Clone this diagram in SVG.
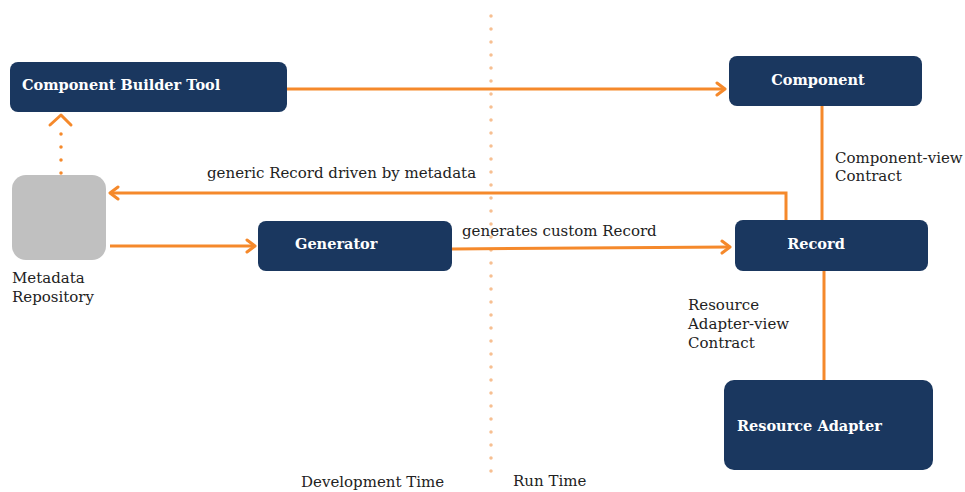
<svg xmlns="http://www.w3.org/2000/svg" width="965" height="492" viewBox="0 0 965 492">
<style>
.node{fill:#1a375f}
.nt{font-family:"DejaVu Serif","Liberation Serif",serif;font-weight:bold;font-size:14.5px;fill:#ffffff}
.lb{font-family:"DejaVu Serif","Liberation Serif",serif;font-size:15px;fill:#222222}
.ln{stroke:#f5892b;stroke-width:3;fill:none}
.dot{stroke:#f5892b;stroke-width:3.5;fill:none;stroke-linecap:round;stroke-dasharray:0 13}
.div{stroke:#f7bf91;stroke-width:3.5;fill:none;stroke-linecap:round;stroke-dasharray:0 13}
</style>
<defs>
<marker id="ah" viewBox="0 0 12 16" refX="10" refY="8" markerWidth="12" markerHeight="16" markerUnits="userSpaceOnUse" orient="auto">
<path d="M2,2 L10,8 L2,14" fill="none" stroke="#f5892b" stroke-width="3" stroke-linecap="round" stroke-linejoin="round"/>
</marker>
</defs>
<g id="divider"><line class="div" x1="491" y1="16" x2="491" y2="480"/></g>
<g id="connectors">
<line class="ln" x1="287" y1="89" x2="725" y2="89" marker-end="url(#ah)"/>
<line class="dot" x1="61" y1="173" x2="61" y2="130"/>
<path class="ln" d="M50,125 L61,115 L71,125" stroke-linecap="round" stroke-linejoin="round"/>
<path class="ln" d="M786,220 L786,193 L110,193" marker-end="url(#ah)"/>
<line class="ln" x1="110" y1="246" x2="255" y2="246" marker-end="url(#ah)"/>
<line class="ln" x1="452" y1="249" x2="730" y2="247" marker-end="url(#ah)"/>
<line class="ln" x1="822" y1="106" x2="822" y2="220"/>
<line class="ln" x1="824" y1="271" x2="824" y2="380"/>
</g>
<g id="component-builder-tool"><rect class="node" x="10" y="62" width="277" height="50" rx="8"/><text class="nt" x="22" y="90">Component Builder Tool</text></g>
<g id="component"><rect class="node" x="729" y="56" width="193" height="50" rx="8"/><text class="nt" x="818" y="85" text-anchor="middle">Component</text></g>
<g id="record"><rect class="node" x="735" y="220" width="193" height="51" rx="8"/><text class="nt" x="816" y="249" text-anchor="middle">Record</text></g>
<g id="generator"><rect class="node" x="258" y="221" width="194" height="50" rx="8"/><text class="nt" x="295" y="249">Generator</text></g>
<g id="resource-adapter"><rect class="node" x="724" y="380" width="209" height="90" rx="10"/><text class="nt" x="737" y="431">Resource Adapter</text></g>
<g id="metadata-repository"><rect x="12" y="175" width="94" height="85" rx="14" fill="#c0c0c0"/><text class="lb" x="12" y="283">Metadata</text><text class="lb" x="12" y="302">Repository</text></g>
<g id="labels">
<text class="lb" x="207" y="178">generic Record driven by metadata</text>
<text class="lb" x="462" y="236">generates custom Record</text>
<text class="lb" x="835" y="163">Component-view</text>
<text class="lb" x="835" y="181">Contract</text>
<text class="lb" x="688" y="310">Resource</text>
<text class="lb" x="688" y="329">Adapter-view</text>
<text class="lb" x="688" y="348">Contract</text>
<text class="lb" x="301" y="487">Development Time</text>
<text class="lb" x="513" y="486">Run Time</text>
</g>
</svg>
